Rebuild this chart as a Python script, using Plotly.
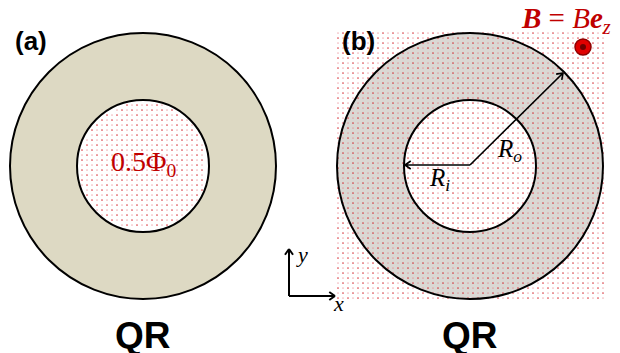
import numpy as np
import plotly.graph_objects as go

# --- schematic parameters ---
panels = ["(a)", "(b)"]
panel_names = ["QR", "QR"]
centers_x = [143, 470]
center_y = 166
outer_radius = 133
inner_radius = 66
ring_colors = ["#DDD9C3", "#DAD8D4"]
flux_label = "0.5Φ<sub>0</sub>"
field_label = "<b><i>B</i></b> = <i>B</i><b><i>e</i></b><sub><i>z</i></sub>"
dot_spacing = 5

W, H = 620, 353
fig = go.Figure()
shapes = []
annotations = []

# ring fills (below dots)
for cx, col in zip(centers_x, ring_colors):
    shapes.append(dict(type="circle", xref="x", yref="y", layer="below",
                       x0=cx - outer_radius, x1=cx + outer_radius,
                       y0=center_y - outer_radius, y1=center_y + outer_radius,
                       fillcolor=col, line=dict(width=0)))
    shapes.append(dict(type="circle", xref="x", yref="y", layer="below",
                       x0=cx - inner_radius, x1=cx + inner_radius,
                       y0=center_y - inner_radius, y1=center_y + inner_radius,
                       fillcolor="white", line=dict(width=0)))

# dot pattern (magnetic field)
def dots(xmin, xmax, ymin, ymax):
    xs = np.arange(xmin, xmax + 0.1, dot_spacing)
    ys = np.arange(ymin, ymax + 0.1, dot_spacing)
    X, Y = np.meshgrid(xs, ys)
    return X.ravel(), Y.ravel()

ax_, ay_ = dots(centers_x[0] - inner_radius, centers_x[0] + inner_radius,
                center_y - inner_radius, center_y + inner_radius)
m = (ax_ - centers_x[0]) ** 2 + (ay_ - center_y) ** 2 < (inner_radius - 2) ** 2
ax_, ay_ = ax_[m], ay_[m]
bx_, by_ = dots(centers_x[1] - outer_radius + 1, centers_x[1] + outer_radius,
                center_y - outer_radius, center_y + outer_radius - 1)
dx = np.concatenate([ax_, bx_])
dy = np.concatenate([ay_, by_])
idx = ((dx / dot_spacing).astype(int) + (dy / dot_spacing).astype(int)) % 2
fig.add_trace(go.Scatter(x=dx[idx == 0], y=dy[idx == 0], mode="markers",
                         marker=dict(size=1.7, color="rgba(210,20,30,0.8)", line=dict(width=0)),
                         hoverinfo="skip", showlegend=False))
fig.add_trace(go.Scatter(x=dx[idx == 1], y=dy[idx == 1], mode="markers",
                         marker=dict(size=1.7, color="rgba(230,110,120,0.5)", line=dict(width=0)),
                         hoverinfo="skip", showlegend=False))

# circle outlines
for cx in centers_x:
    for r in (outer_radius, inner_radius):
        shapes.append(dict(type="circle", xref="x", yref="y", layer="above",
                           x0=cx - r, x1=cx + r, y0=center_y - r, y1=center_y + r,
                           fillcolor="rgba(0,0,0,0)", line=dict(color="black", width=2)))

# arrows with open chevron heads
def arrow(x0, y0, x1, y1, width=1.6, head=7):
    ang = np.arctan2(y1 - y0, x1 - x0)
    path = f"M{x0},{y0} L{x1},{y1}"
    for s in (+1, -1):
        a = ang + np.pi + s * np.deg2rad(35)
        path += f" M{x1},{y1} L{x1 + head*np.cos(a)},{y1 + head*np.sin(a)}"
    shapes.append(dict(type="path", xref="x", yref="y", path=path, layer="above",
                       line=dict(color="black", width=width)))

cxb = centers_x[1]
arrow(cxb, center_y - 1, cxb - inner_radius + 1, center_y - 1)
d = outer_radius / np.sqrt(2)
arrow(cxb, center_y - 1, cxb + d - 1, center_y - d + 1)

# coordinate axes
ox, oy = 289, 296
arrow(ox, oy, ox, oy - 47, width=2, head=7)
arrow(ox, oy, ox + 46, oy, width=2, head=7)

serif = "Liberation Serif"
annotations += [
    dict(x=302, y=254, text="<i>y</i>", font=dict(family=serif, size=22, color="black")),
    dict(x=338, y=303, text="<i>x</i>", font=dict(family=serif, size=22, color="black")),
    dict(x=509, y=150, text="<i>R<sub>o</sub></i>", font=dict(family=serif, size=25, color="black")),
    dict(x=439, y=179, text="<i>R<sub>i</sub></i>", font=dict(family=serif, size=25, color="black")),
    dict(x=centers_x[0], y=163, text=flux_label, font=dict(family=serif, size=28, color="#C00000")),
    dict(x=566, y=20, text=field_label, font=dict(family=serif, size=29, color="#C00000")),
]
for cx, lab, name in zip(centers_x, panels, panel_names):
    annotations.append(dict(x=cx - 112, y=41, text=f"<b>{lab}</b>",
                            font=dict(family="Liberation Sans", size=26, color="black")))
    annotations.append(dict(x=cx, y=335, text=f"<b>{name}</b>",
                            font=dict(family="Liberation Sans", size=37, color="black")))
for a in annotations:
    a.update(xref="x", yref="y", showarrow=False, xanchor="center", yanchor="middle",
             borderpad=0)

# B-field out-of-plane symbol
shapes.append(dict(type="circle", xref="x", yref="y", layer="above",
                   x0=575, x1=591, y0=39, y1=55, fillcolor="#E00000",
                   line=dict(color="#900000", width=1.5)))
shapes.append(dict(type="circle", xref="x", yref="y", layer="above",
                   x0=580, x1=586, y0=44, y1=50, fillcolor="#700000",
                   line=dict(width=0)))

fig.update_layout(
    width=W, height=H, margin=dict(l=0, r=0, t=0, b=0),
    paper_bgcolor="white", plot_bgcolor="white",
    xaxis=dict(range=[0, W], visible=False, fixedrange=True),
    yaxis=dict(range=[H, 0], visible=False, fixedrange=True),
    shapes=shapes, annotations=annotations, showlegend=False,
)
fig.write_html("out.html")
